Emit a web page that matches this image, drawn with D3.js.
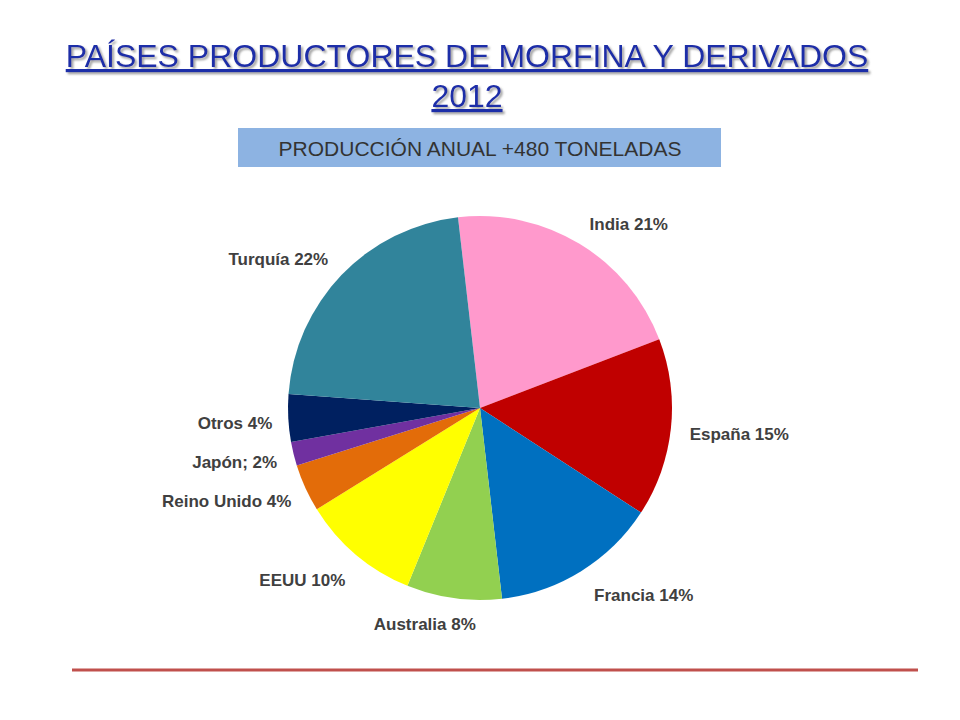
<!DOCTYPE html>
<html><head><meta charset="utf-8">
<script src="https://cdn.jsdelivr.net/npm/d3@7"></script>
<style>body{margin:0;background:#fff}</style>
</head><body><div id="chart"></div>
<script>
let width = 960, height = 720;

let countries = ["India", "España", "Francia", "Australia", "EEUU", "Reino Unido", "Japón", "Otros", "Turquía"];
let shares = [21, 15, 14, 8, 10, 4, 2, 4, 22];
let labels = ["India 21%", "España 15%", "Francia 14%", "Australia  8%", "EEUU 10%", "Reino Unido 4%", "Japón; 2%", "Otros  4%", "Turquía 22%"];
let colors = ["#FF99CC", "#C00000", "#0070C0", "#92D050", "#FFFF00", "#E36C09", "#7030A0", "#002060", "#31849B"];
// label placement tweaks
let labelR = [250, 245, 245, 215, 235, 225, 215, 215, 245];
let labelDx = [0, -14, 5, 5, -3, -4, -14, -13, 5];
let labelDy = [30, 0, -21, 3, -7, -1, 3, 4, 21];

let svg = d3.select("#chart").append("svg").attr("width", width).attr("height", height)
  .style("font-family", "Liberation Sans, Arial, sans-serif");

let defs = svg.append("defs");
let f = defs.append("filter").attr("id", "shadow");
f.append("feDropShadow").attr("dx", 2).attr("dy", 2).attr("stdDeviation", 1)
  .attr("flood-color", "#888").attr("flood-opacity", 0.8);

let t = svg.append("text").attr("text-anchor", "middle").attr("fill", "#1F2DA8")
  .attr("font-size", 32).style("text-decoration", "underline").attr("filter", "url(#shadow)");
t.append("tspan").attr("x", 467).attr("y", 67).text("PAÍSES PRODUCTORES DE MORFINA Y DERIVADOS");
t.append("tspan").attr("x", 467).attr("y", 107).text("2012");

svg.append("rect").attr("x", 238).attr("y", 128).attr("width", 483).attr("height", 39).attr("fill", "#8DB3E2");
svg.append("text").attr("x", 480).attr("y", 156).attr("text-anchor", "middle").attr("font-size", 21)
  .attr("fill", "#333").text("PRODUCCIÓN ANUAL +480 TONELADAS");

let cx = 480, cy = 408, r = 192;
let start = -0.115;
let pie = d3.pie().sort(null).startAngle(start).endAngle(start + 2 * Math.PI);
let arcs = pie(shares);
let arc = d3.arc().innerRadius(0).outerRadius(r);

let g = svg.append("g").attr("transform", `translate(${cx},${cy})`);
g.selectAll("path").data(arcs).enter().append("path")
  .attr("d", arc).attr("fill", (d, i) => colors[i]);

g.selectAll("text.lbl").data(arcs).enter().append("text")
  .attr("class", "lbl")
  .each(function(d, i) {
    let a = (d.startAngle + d.endAngle) / 2;
    let x = Math.sin(a) * labelR[i], y = -Math.cos(a) * labelR[i];
    let right = Math.sin(a) > 0;
    d3.select(this).attr("x", (right ? x - 20 : x + 20) + labelDx[i]).attr("y", y + 6 + labelDy[i])
      .attr("text-anchor", right ? "start" : "end");
  })
  .attr("font-size", 17).attr("font-weight", "bold").attr("fill", "#404040")
  .text((d, i) => labels[i]);

svg.append("line").attr("x1", 72).attr("x2", 918).attr("y1", 670).attr("y2", 670)
  .attr("stroke", "#C0504D").attr("stroke-width", 3);
</script>
</body></html>
